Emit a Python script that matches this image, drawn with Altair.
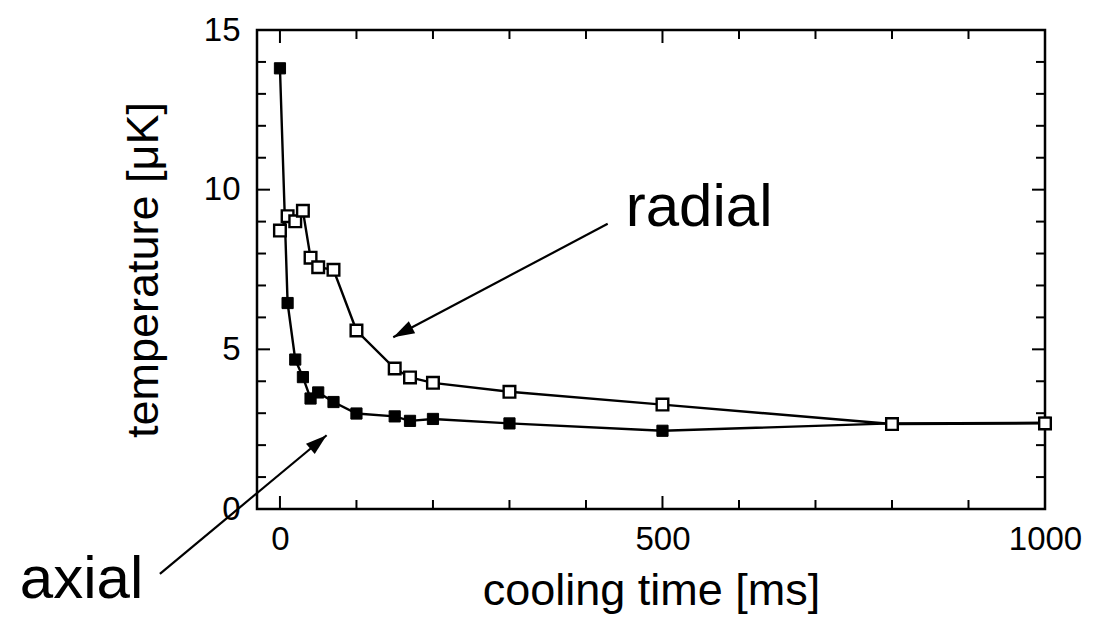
import altair as alt
import pandas as pd

# ---- data ----
cooling_time = [0, 10, 20, 30, 40, 50, 70, 100, 150, 170, 200, 300, 500, 800, 1000]
axial_temp = [13.8, 6.45, 4.68, 4.13, 3.46, 3.65, 3.35, 2.99, 2.90, 2.76, 2.82, 2.68, 2.45, 2.68, 2.70]
radial_temp = [8.72, 9.17, 9.01, 9.34, 7.87, 7.57, 7.49, 5.59, 4.40, 4.12, 3.95, 3.67, 3.27, 2.66, 2.68]

x_label_values = [0, 500, 1000]
y_label_values = [0, 5, 10, 15]
x_ticks_major = [0, 500, 1000]
x_ticks_minor = [100, 200, 300, 400, 600, 700, 800, 900]
y_ticks_major = [0, 5, 10, 15]
y_ticks_minor = [1, 2, 3, 4, 6, 7, 8, 9, 11, 12, 13, 14]

label_text = ["radial", "axial"]
label_x = [452, -340]
label_y = [8.875, -2.78]

arrow_name = ["radial", "axial"]
arrow_x_from = [428.4, -156.9]
arrow_y_from = [8.93, -2.03]
arrow_x_to = [148.1, 61.0]
arrow_y_to = [5.38, 2.31]

# ---- tables ----
axial_df = pd.DataFrame({"t": cooling_time, "T": axial_temp})
radial_df = pd.DataFrame({"t": cooling_time, "T": radial_temp})
labels_df = pd.DataFrame({"text": label_text, "x": label_x, "y": label_y})
arrows_df = pd.DataFrame({"name": arrow_name, "x": arrow_x_from, "y": arrow_y_from,
                          "x2": arrow_x_to, "y2": arrow_y_to})
xmaj_df = pd.DataFrame({"v": x_ticks_major})
xmin_df = pd.DataFrame({"v": x_ticks_minor})
ymaj_df = pd.DataFrame({"v": y_ticks_major})
ymin_df = pd.DataFrame({"v": y_ticks_minor})

W, H = 788, 479
FONT = "Liberation Sans"

xscale = alt.Scale(domain=[-30, 1000], nice=False, zero=False)
yscale = alt.Scale(domain=[0, 15], nice=False, zero=False)

x_axis = alt.Axis(values=x_label_values, format="d", ticks=False, domain=False, grid=False,
                  labelFontSize=33, labelPadding=14, labelFlush=False, labelOverlap=False,
                  labelFont=FONT, labelColor="black",
                  title="cooling time [ms]", titleFont=FONT, titleFontSize=45,
                  titleFontWeight="normal", titleColor="black", titlePadding=12)
y_axis = alt.Axis(values=y_label_values, format="d", ticks=False, domain=False, grid=False,
                  labelFontSize=33, labelPadding=17, labelFlush=False, labelOverlap=False,
                  labelFont=FONT, labelColor="black",
                  title="temperature [μK]", titleFont=FONT, titleFontSize=45,
                  titleFontWeight="normal", titleColor="black", titlePadding=37)


def X(f):
    return alt.X(f"{f}:Q", scale=xscale, axis=x_axis)


def Y(f):
    return alt.Y(f"{f}:Q", scale=yscale, axis=y_axis)


MAJ, MIN = 13, 9

tick_layers = [
    alt.Chart(xmaj_df).mark_rule(color="black", strokeWidth=2).encode(x=X("v"), y=alt.value(H), y2=alt.value(H - MAJ)),
    alt.Chart(xmin_df).mark_rule(color="black", strokeWidth=2).encode(x=X("v"), y=alt.value(H), y2=alt.value(H - MIN)),
    alt.Chart(xmaj_df).mark_rule(color="black", strokeWidth=2).encode(x=X("v"), y=alt.value(0), y2=alt.value(MAJ)),
    alt.Chart(xmin_df).mark_rule(color="black", strokeWidth=2).encode(x=X("v"), y=alt.value(0), y2=alt.value(MIN)),
    alt.Chart(ymaj_df).mark_rule(color="black", strokeWidth=2).encode(y=Y("v"), x=alt.value(0), x2=alt.value(MAJ)),
    alt.Chart(ymin_df).mark_rule(color="black", strokeWidth=2).encode(y=Y("v"), x=alt.value(0), x2=alt.value(MIN)),
    alt.Chart(ymaj_df).mark_rule(color="black", strokeWidth=2).encode(y=Y("v"), x=alt.value(W), x2=alt.value(W - MAJ)),
    alt.Chart(ymin_df).mark_rule(color="black", strokeWidth=2).encode(y=Y("v"), x=alt.value(W), x2=alt.value(W - MIN)),
]

axial_line = alt.Chart(axial_df).mark_line(color="black", strokeWidth=2.4).encode(x=X("t"), y=Y("T"))
radial_line = alt.Chart(radial_df).mark_line(color="black", strokeWidth=2.4).encode(x=X("t"), y=Y("T"))
axial_pts = alt.Chart(axial_df).mark_point(shape="square", filled=True, fill="black", stroke="black",
                                           strokeWidth=1, size=125, opacity=1).encode(x=X("t"), y=Y("T"))
radial_pts = alt.Chart(radial_df).mark_point(shape="square", filled=True, fill="white", stroke="black",
                                             strokeWidth=2.4, size=135, opacity=1).encode(x=X("t"), y=Y("T"))

shafts = alt.Chart(arrows_df).mark_rule(color="black", strokeWidth=2.2).encode(
    x=X("x"), y=Y("y"), x2="x2:Q", y2="y2:Q")

HEAD = "M0,0 L0.32,1 L-0.32,1 Z"
head_radial = alt.Chart(arrows_df).transform_filter(alt.datum.name == "radial").mark_point(
    shape=HEAD, filled=True, fill="black", strokeWidth=0, size=1800, opacity=1, angle=242
).encode(x=X("x2"), y=Y("y2"))
head_axial = alt.Chart(arrows_df).transform_filter(alt.datum.name == "axial").mark_point(
    shape=HEAD, filled=True, fill="black", strokeWidth=0, size=1800, opacity=1, angle=50
).encode(x=X("x2"), y=Y("y2"))

texts = alt.Chart(labels_df).mark_text(align="left", baseline="alphabetic", fontSize=60,
                                       font=FONT, color="black").encode(
    x=X("x"), y=Y("y"), text="text:N")

chart = alt.layer(
    *tick_layers, axial_line, radial_line, axial_pts, radial_pts,
    shafts, head_radial, head_axial, texts
).properties(
    width=W, height=H,
    autosize=alt.AutoSizeParams(type="none"),
    padding={"left": 257, "top": 30, "right": 65, "bottom": 109},
    background="white",
).configure_view(stroke="black", strokeWidth=2.5)

chart.save("out.html", embed_options={"renderer": "svg", "actions": False})
